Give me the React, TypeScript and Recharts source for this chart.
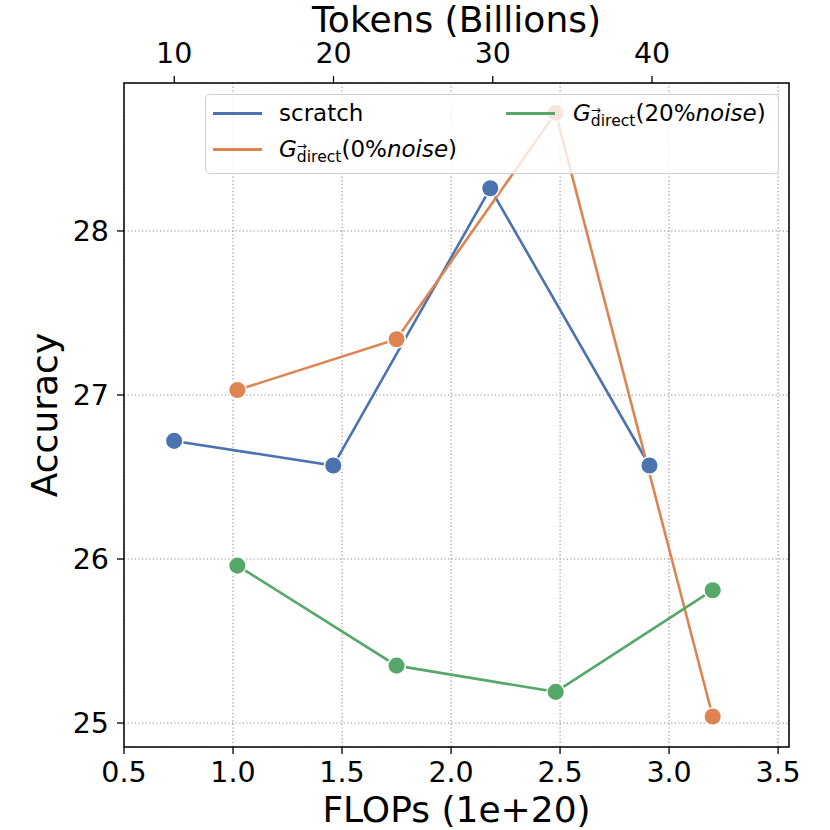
import { CartesianGrid, Legend, Line, LineChart, ReferenceArea, XAxis, YAxis } from "recharts";

// FLOPs (1e+20) of each checkpoint
const scratchFlops = [0.73, 1.46, 2.18, 2.91];
const directFlops = [1.02, 1.75, 2.48, 3.2];

// accuracy per series
const scratchAcc = [26.72, 26.57, 28.26, 26.57];
const noise0Acc = [27.03, 27.34, 28.72, 25.04];
const noise20Acc = [25.96, 25.35, 25.19, 25.81];

const flopsTicks = [0.5, 1.0, 1.5, 2.0, 2.5, 3.0, 3.5];
const tokenTicks = [10, 20, 30, 40];
const accTicks = [25, 26, 27, 28];

// tokens (billions) per 1e20 FLOPs, for the twin top axis
const tokensPerFlop = 13.69;

const xDomain = [0.5, 3.55];
const yDomain = [24.854, 28.902];

const BLUE = "#4c72b0";
const ORANGE = "#dd8452";
const GREEN = "#55a868";
const FONT = "DejaVu Sans";

const tickStyle = { fill: "#000", fontSize: 28.5, fontFamily: FONT };
const titleStyle = { fill: "#000", fontSize: 36, fontFamily: FONT };

function GDirect({ noise }: { noise: string }) {
  return (
    <span style={{ whiteSpace: "nowrap" }}>
      <i>G</i>
      <span style={{ position: "relative", fontSize: 15.6, verticalAlign: -5 }}>
        <span style={{ position: "absolute", left: 0, top: -12.5, fontSize: 12 }}>→</span>
        direct
      </span>
      <span>({noise}%</span>
      <i>noise</i>
      <span>)</span>
    </span>
  );
}

function LegendBox() {
  const entry = (color: string, lineLeft: number, textLeft: number, baseline: number, label: React.ReactNode) => (
    <>
      <div
        style={{
          position: "absolute",
          left: lineLeft,
          top: baseline - 8.6,
          width: 49,
          height: 2.6,
          background: color,
        }}
      />
      <div
        style={{
          position: "absolute",
          left: textLeft,
          top: baseline - 19.5,
          fontSize: 23,
          lineHeight: "23px",
          fontFamily: FONT,
          color: "#000",
        }}
      >
        {label}
      </div>
    </>
  );
  return (
    <div
      style={{
        position: "relative",
        width: 574,
        height: 80,
        boxSizing: "border-box",
        border: "1.3px solid #d0d0d0",
        borderRadius: 5,
        background: "rgba(255,255,255,0.8)",
      }}
    >
      {entry(BLUE, 7, 73, 26, "scratch")}
      {entry(ORANGE, 7, 73, 62, <GDirect noise="0" />)}
      {entry(GREEN, 300, 367, 26, <GDirect noise="20" />)}
    </div>
  );
}

export default function App() {
  const scratch = scratchFlops.map((f, i) => ({ flops: f, acc: scratchAcc[i] }));
  const noise0 = directFlops.map((f, i) => ({ flops: f, acc: noise0Acc[i] }));
  const noise20 = directFlops.map((f, i) => ({ flops: f, acc: noise20Acc[i] }));
  // same checkpoints expressed in tokens, only to give the top axis a series
  const scratchTokens = scratchFlops.map((f, i) => ({ tokens: f * tokensPerFlop, acc: scratchAcc[i] }));

  const dot = (color: string) => ({ r: 8.8, fill: color, stroke: "#fff", strokeWidth: 1.5, fillOpacity: 1 });

  return (
    <div style={{ position: "absolute", left: 0, top: 0, width: 830, height: 830, background: "#fff" }}>
      <LineChart width={830} height={830} margin={{ top: 0, right: 41, bottom: 0, left: 0 }}>
        <CartesianGrid stroke="#8c8c8c" strokeDasharray="1.2 2.4" strokeWidth={1.1} />
        <XAxis
          dataKey="flops"
          type="number"
          domain={xDomain}
          ticks={flopsTicks}
          allowDataOverflow
          height={83}
          axisLine={false}
          stroke="#000"
          tickLine={{ stroke: "#000", strokeWidth: 1.3 }}
          tickSize={7}
          tickMargin={8}
          tick={tickStyle}
          tickFormatter={(v) => Number(v).toFixed(1)}
          label={{ value: "FLOPs (1e+20)", position: "insideBottom", offset: 8, ...titleStyle }}
        />
        <XAxis
          xAxisId="top"
          dataKey="tokens"
          orientation="top"
          type="number"
          domain={[xDomain[0] * tokensPerFlop, xDomain[1] * tokensPerFlop]}
          ticks={tokenTicks}
          allowDataOverflow
          height={83}
          axisLine={false}
          stroke="#000"
          tickLine={{ stroke: "#000", strokeWidth: 1.3 }}
          tickSize={7}
          tickMargin={13}
          tick={tickStyle}
          label={{ value: "Tokens (Billions)", position: "insideTop", offset: 6, ...titleStyle }}
        />
        <YAxis
          type="number"
          domain={yDomain}
          ticks={accTicks}
          allowDataOverflow
          width={124}
          axisLine={false}
          stroke="#000"
          tickLine={{ stroke: "#000", strokeWidth: 1.3 }}
          tickSize={7}
          tickMargin={8}
          tick={tickStyle}
          label={{ value: "Accuracy", angle: -90, position: "insideLeft", offset: 44, ...titleStyle, style: { textAnchor: "middle" } }}
        />
        <Line
          xAxisId="top"
          data={scratchTokens}
          dataKey="acc"
          stroke="none"
          dot={false}
          activeDot={false}
          legendType="none"
          isAnimationActive={false}
        />
        <Line data={scratch} dataKey="acc" name="scratch" stroke={BLUE} strokeWidth={2.6} dot={dot(BLUE)} activeDot={false} isAnimationActive={false} />
        <Line data={noise0} dataKey="acc" name="0% noise" stroke={ORANGE} strokeWidth={2.6} dot={dot(ORANGE)} activeDot={false} isAnimationActive={false} />
        <Line data={noise20} dataKey="acc" name="20% noise" stroke={GREEN} strokeWidth={2.6} dot={dot(GREEN)} activeDot={false} isAnimationActive={false} />
        <ReferenceArea
          x1={xDomain[0]}
          x2={xDomain[1]}
          y1={yDomain[0]}
          y2={yDomain[1]}
          fill="none"
          stroke="#000"
          strokeWidth={1.5}
          ifOverflow="visible"
        />
        <Legend
          layout="horizontal"
          align="center"
          verticalAlign="middle"
          content={() => <LegendBox />}
          wrapperStyle={{ left: 205, top: 94, width: 574, height: 80 }}
        />
      </LineChart>
    </div>
  );
}
